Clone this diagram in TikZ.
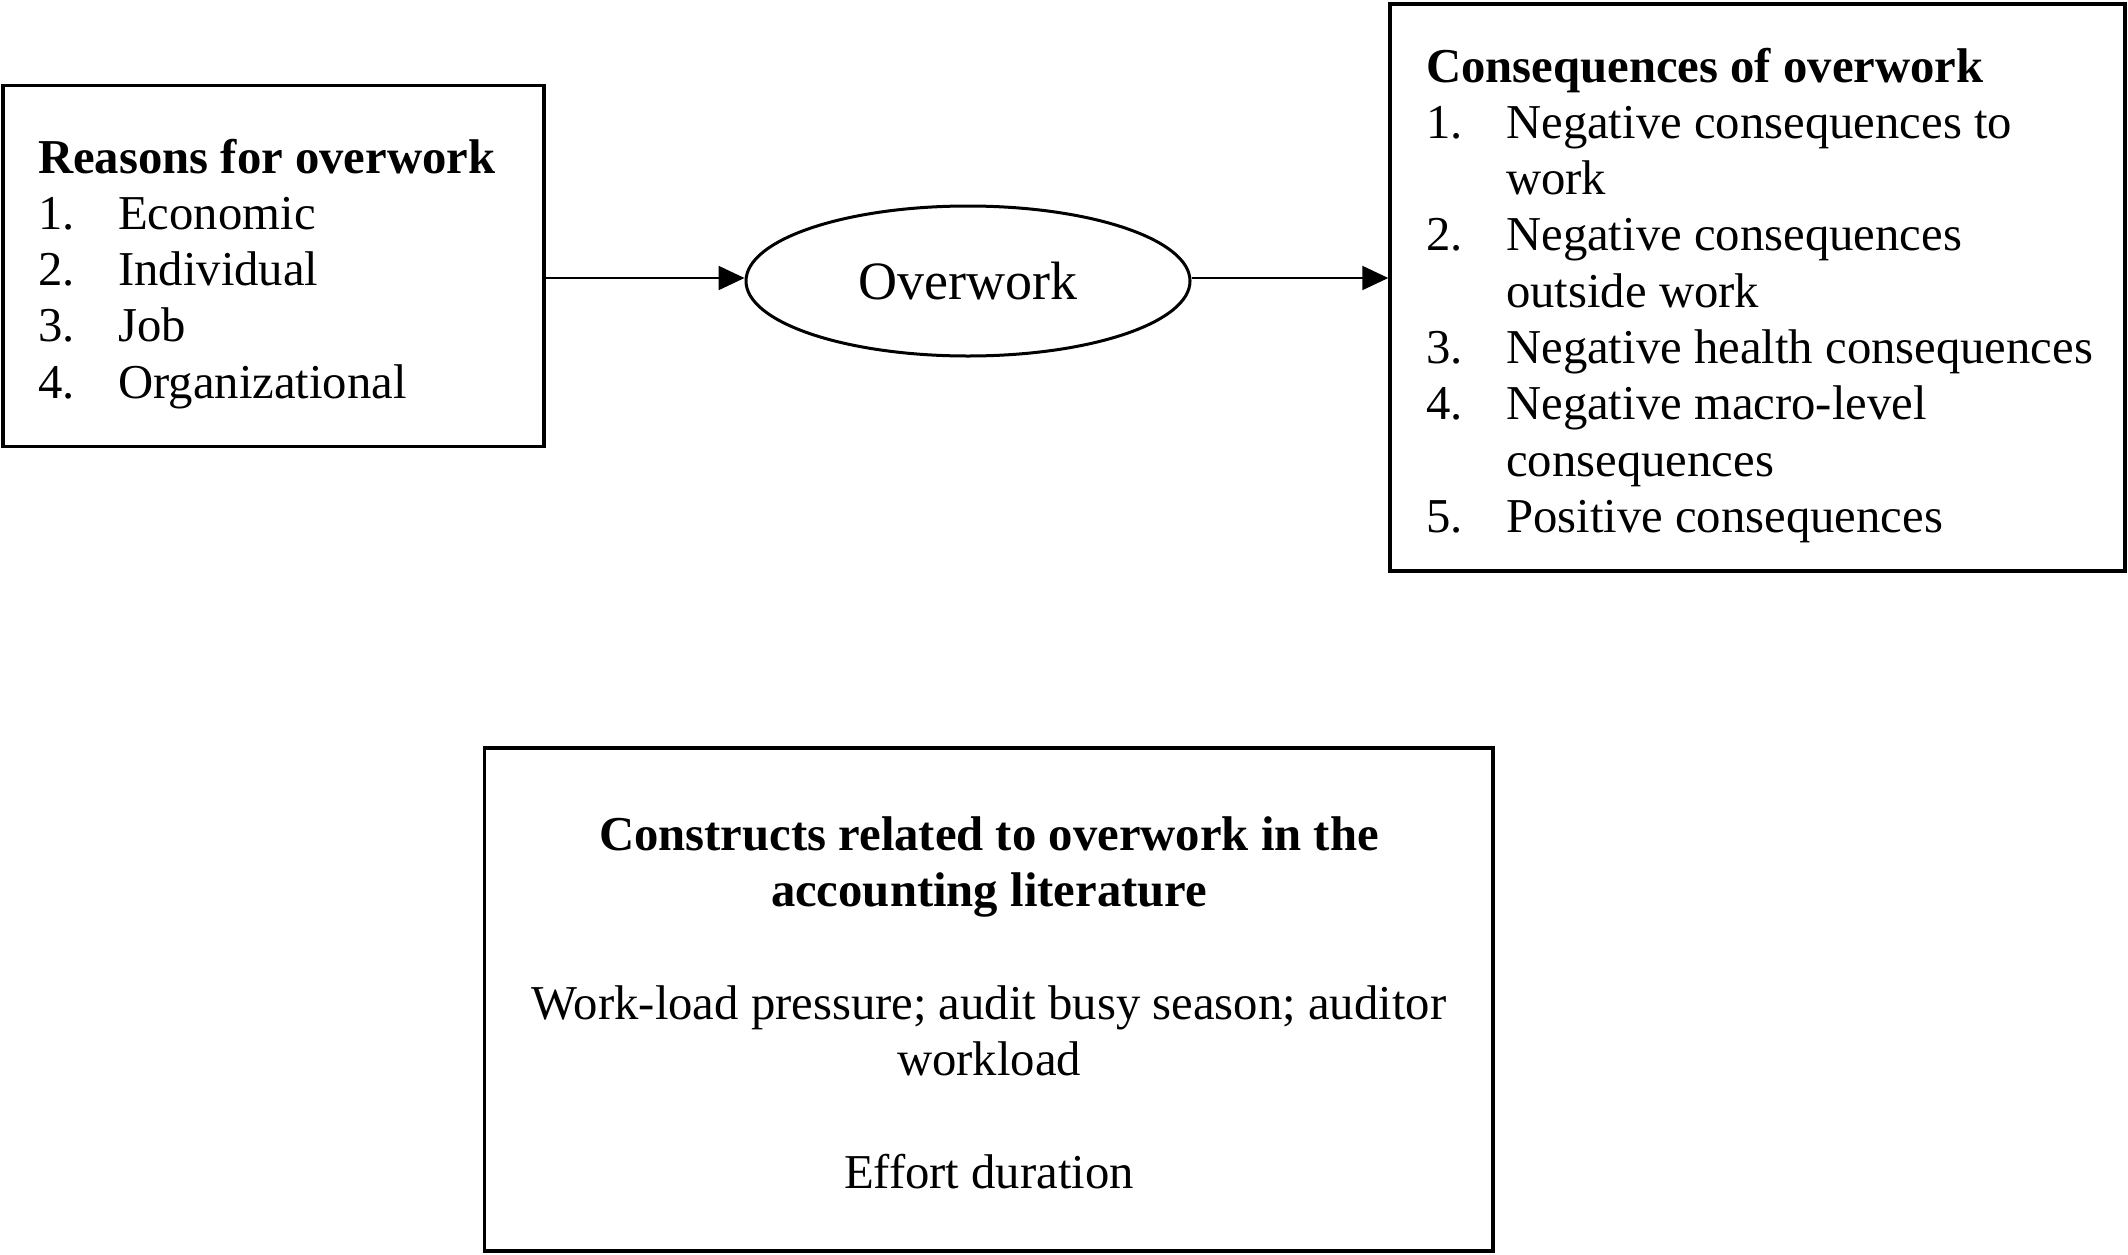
\documentclass[tikz,border=0pt]{standalone}
\usepackage{fontspec}
\setmainfont{Liberation Serif}
\usetikzlibrary{shapes.geometric,arrows.meta}
\begin{document}
\begin{tikzpicture}[x=1pt,y=-1pt,
  box/.style={draw, line width=3.5pt, inner sep=0pt},
  txt/.style={anchor=base west, inner sep=0pt, yshift=-3pt, font=\fontsize{48.7pt}{56.3pt}\selectfont},
  btxt/.style={txt, font=\fontsize{48.7pt}{56.3pt}\selectfont\bfseries},
  ctxt/.style={anchor=base, inner sep=0pt, yshift=-3pt, font=\fontsize{48.7pt}{56.3pt}\selectfont},
  cbtxt/.style={ctxt, font=\fontsize{48.7pt}{56.3pt}\selectfont\bfseries},
  conn/.style={line width=2.2pt, -{Triangle[length=26pt,width=24pt]}}]
\fill[white] (0,0) rectangle (2128,1254);
\useasboundingbox (0,0) rectangle (2128,1254);

% left box
\node[box, minimum width=541pt, minimum height=361pt] (reasons) at (273.4,266) {};
\node[btxt] (rt) at (38,170) {Reasons for overwork};
\node[txt] (rn1) at (38,226.3) {1.};
\node[txt] (ri1) at (118,226.3) {Economic};
\node[txt] (rn2) at (38,282.6) {2.};
\node[txt] (ri2) at (118,282.6) {Individual};
\node[txt] (rn3) at (38,338.9) {3.};
\node[txt] (ri3) at (118,338.9) {Job};
\node[txt] (rn4) at (38,395.2) {4.};
\node[txt] (ri4) at (118,395.2) {Organizational};

% ellipse
\node[draw, ellipse, line width=3pt, minimum width=444pt, minimum height=150pt, inner sep=0pt,
  font=\fontsize{54pt}{60pt}\selectfont] (ov) at (968,281) {Overwork};

% right box
\node[box, minimum width=735pt, minimum height=567pt] (cons) at (1757.5,287.5) {};
\node[btxt] (ct) at (1426,79) {Consequences of overwork};
\node[txt] (cn1) at (1426,135.3) {1.};
\node[txt] (ci1) at (1506,135.3) {Negative consequences to};
\node[txt] (ci1b) at (1506,191.6) {work};
\node[txt] (cn2) at (1426,247.9) {2.};
\node[txt] (ci2) at (1506,247.9) {Negative consequences};
\node[txt] (ci2b) at (1506,304.2) {outside work};
\node[txt] (cn3) at (1426,360.5) {3.};
\node[txt] (ci3) at (1506,360.5) {Negative health consequences};
\node[txt] (cn4) at (1426,416.8) {4.};
\node[txt] (ci4) at (1506,416.8) {Negative macro-level};
\node[txt] (ci4b) at (1506,473.1) {consequences};
\node[txt] (cn5) at (1426,529.4) {5.};
\node[txt] (ci5) at (1506,529.4) {Positive consequences};

% bottom box
\node[box, minimum width=1008.5pt, minimum height=503pt] (constr) at (988.75,999.5) {};
\node[cbtxt] (bt1) at (989,847) {Constructs related to overwork in the};
\node[cbtxt] (bt2) at (989,903.3) {accounting literature};
\node[ctxt] (bl1) at (989,1016) {Work-load pressure; audit busy season; auditor};
\node[ctxt] (bl2) at (989,1072.3) {workload};
\node[ctxt] (bl3) at (989,1185) {Effort duration};

% connectors
\draw[conn] ([yshift=3pt]reasons.east |- ov.west) -- ([yshift=3pt]ov.west);
\draw[conn] ([yshift=3pt]ov.east) -- ([yshift=3pt]cons.west |- ov.east);
\end{tikzpicture}
\end{document}
